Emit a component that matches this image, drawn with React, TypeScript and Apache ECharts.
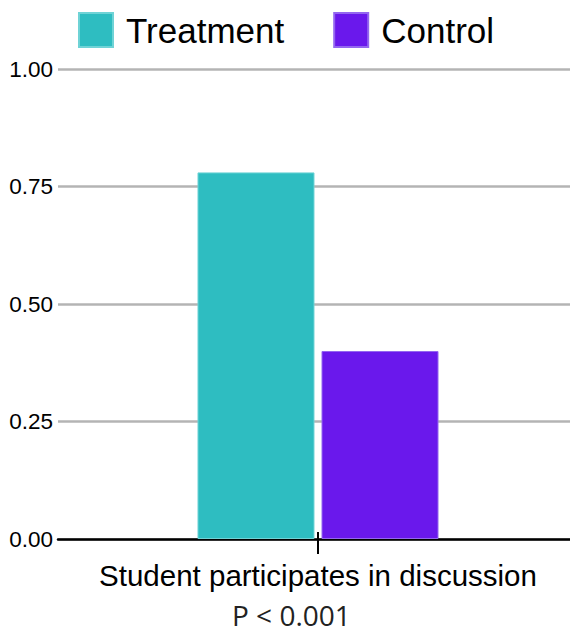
import React, { useEffect, useRef } from "react";
import * as echarts from "echarts";

const categories = ["Student participates in discussion"];
const seriesNames = ["Treatment", "Control"];
const treatmentValues = [0.78];
const controlValues = [0.4];
const yTicks = [0, 0.25, 0.5, 0.75, 1.0];
const pValueLabel = "P < 0.001";

export default function App() {
  const ref = useRef<HTMLDivElement>(null);
  useEffect(() => {
    if (!ref.current) return;
    const chart = echarts.init(ref.current, null, { renderer: "svg" });
    const font = "'Liberation Sans', Arial, sans-serif";
    chart.setOption({
      animation: false,
      backgroundColor: "#ffffff",
      legend: {
        data: seriesNames,
        left: 78,
        top: 12,
        padding: 0,
        itemWidth: 34,
        itemHeight: 34,
        itemGap: 49,
        icon: "rect",
        textStyle: {
          fontFamily: font,
          fontSize: 35,
          color: "#000",
          padding: [0, 0, 0, 8],
        },
      },
      grid: { left: 58, right: 0, top: 69, bottom: 96, containLabel: false },
      xAxis: [
        {
          type: "category",
          data: categories,
          axisLine: { show: true, lineStyle: { color: "#000", width: 2.5 } },
          axisTick: { show: true, alignWithLabel: true, length: 15, lineStyle: { color: "#000", width: 2 } },
          axisLabel: { fontFamily: font, fontSize: 29.5, color: "#000", margin: 21 },
        },
        {
          type: "category",
          data: categories,
          position: "bottom",
          axisLine: { show: false },
          axisTick: { show: true, inside: true, alignWithLabel: true, length: 7, lineStyle: { color: "#000", width: 2 } },
          axisLabel: { show: false },
        },
      ],
      yAxis: {
        type: "value",
        min: yTicks[0],
        max: yTicks[yTicks.length - 1],
        interval: 0.25,
        axisLine: { show: false },
        axisTick: { show: false },
        axisLabel: {
          fontFamily: font,
          fontSize: 22.5,
          color: "#000",
          margin: 5,
          formatter: (v: number) => v.toFixed(2),
        },
        splitLine: { lineStyle: { color: "#b4b4b4", width: 2.5 } },
      },
      series: [
        {
          name: seriesNames[0],
          type: "bar",
          data: treatmentValues,
          barWidth: 117,
          barGap: "6%",
          itemStyle: { color: "#2ebdc1", borderColor: "#6fd3d6", borderWidth: 1 },
        },
        {
          name: seriesNames[1],
          type: "bar",
          data: controlValues,
          barWidth: 117,
          barGap: "6%",
          itemStyle: { color: "#6a18ec", borderColor: "#9466f0", borderWidth: 1 },
        },
      ],
      graphic: [
        {
          type: "text",
          left: 232,
          top: 601,
          style: {
            text: pValueLabel,
            fontFamily: "'Open Sans', sans-serif",
            fontSize: 28,
            lineHeight: 28,
            fill: "#222",
          },
        },
      ],
    });
    return () => chart.dispose();
  }, []);
  return (
    <div style={{ position: "absolute", left: 0, top: 0, width: 570, height: 635, overflow: "hidden" }}>
      <div ref={ref} style={{ width: 578, height: 635 }} />
    </div>
  );
}
